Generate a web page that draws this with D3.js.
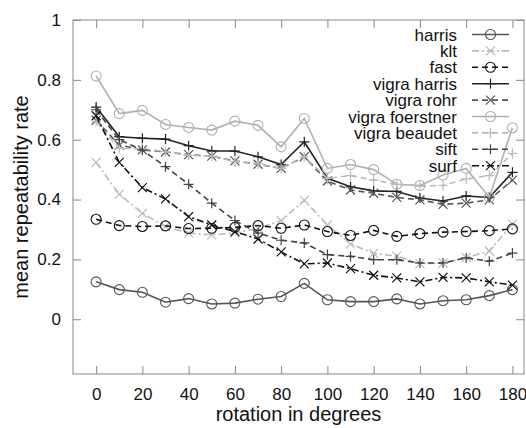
<!DOCTYPE html>
<html>
<head>
<meta charset="utf-8">
<script src="https://cdn.jsdelivr.net/npm/d3@7"></script>
<style>
  body { margin: 0; background: #fff; }
  svg text { font-family: "Liberation Sans", Arial, sans-serif; fill: #111; }
</style>
</head>
<body>
<svg id="chart" width="526" height="428"></svg>
<script>
// rotation angles
var angles = [0,10,20,30,40,50,60,70,80,90,100,110,120,130,140,150,160,170,180];

var harris      = [0.125,0.099,0.090,0.057,0.069,0.051,0.054,0.067,0.076,0.120,0.065,0.059,0.059,0.068,0.051,0.062,0.065,0.079,0.099];
var klt         = [0.524,0.418,0.354,0.310,0.288,0.282,0.288,0.304,0.329,0.397,0.315,0.252,0.220,0.211,0.186,0.188,0.206,0.228,0.318];
var fast        = [0.334,0.313,0.310,0.312,0.303,0.304,0.307,0.313,0.304,0.315,0.293,0.280,0.297,0.277,0.286,0.291,0.293,0.296,0.302];
var vigraHarris = [0.709,0.610,0.605,0.602,0.580,0.562,0.562,0.543,0.517,0.593,0.471,0.443,0.429,0.427,0.405,0.395,0.412,0.407,0.491];
var vigraRohr   = [0.665,0.582,0.566,0.559,0.550,0.545,0.529,0.518,0.504,0.543,0.462,0.432,0.421,0.407,0.399,0.384,0.388,0.399,0.465];
var foerstner   = [0.813,0.687,0.698,0.651,0.641,0.632,0.662,0.648,0.576,0.671,0.504,0.517,0.500,0.451,0.447,0.482,0.504,0.407,0.640];
var beaudet     = [0.660,0.571,0.570,0.560,0.548,0.545,0.527,0.520,0.504,0.543,0.471,0.480,0.465,0.451,0.445,0.447,0.469,0.480,0.554];
var sift        = [0.700,0.600,0.565,0.510,0.451,0.388,0.330,0.288,0.264,0.255,0.216,0.210,0.199,0.199,0.188,0.188,0.205,0.194,0.221];
var surf        = [0.680,0.524,0.440,0.402,0.343,0.315,0.293,0.268,0.225,0.185,0.188,0.169,0.147,0.138,0.125,0.140,0.138,0.125,0.114];

var xTicks = [0,20,40,60,80,100,120,140,160,180];
var yTicks = [0,0.2,0.4,0.6,0.8,1];

var series = [
  {name: "harris",          values: harris,      color: "#555", dash: null,        mark: "circle"},
  {name: "klt",             values: klt,         color: "#bbb", dash: "7,3,2,3",   mark: "x"},
  {name: "fast",            values: fast,        color: "#111", dash: "6,4",       mark: "circle"},
  {name: "vigra harris",    values: vigraHarris, color: "#222", dash: null,        mark: "plus"},
  {name: "vigra rohr",      values: vigraRohr,   color: "#555", dash: "6,4",       mark: "x"},
  {name: "vigra foerstner", values: foerstner,   color: "#b0b0b0", dash: null,     mark: "circle"},
  {name: "vigra beaudet",   values: beaudet,     color: "#bbb", dash: "6,4",       mark: "plus"},
  {name: "sift",            values: sift,        color: "#444", dash: "6,4",       mark: "plus"},
  {name: "surf",            values: surf,        color: "#111", dash: "7,3,2,3",   mark: "x"}
];

var svg = d3.select("#chart");
var plot = {left: 73, right: 524, top: 20, bottom: 374};

var x = d3.scaleLinear().domain([-10, 185]).range([plot.left, plot.right]);
var y = d3.scaleLinear().domain([-0.183, 1]).range([plot.bottom, plot.top]);

// frame
svg.append("rect")
  .attr("x", plot.left).attr("y", plot.top)
  .attr("width", plot.right - plot.left).attr("height", plot.bottom - plot.top)
  .attr("fill", "none").attr("stroke", "#888").attr("stroke-width", 1);

// axes with inward ticks, no domain line
var fmt = function(d) { return d === 0 ? "0" : d === 1 ? "1" : d3.format(".1f")(d); };

var xb = svg.append("g").attr("transform", "translate(0," + plot.bottom + ")")
  .call(d3.axisBottom(x).tickValues(xTicks).tickSizeInner(-8).tickSizeOuter(0).tickPadding(14));
var xt = svg.append("g").attr("transform", "translate(0," + plot.top + ")")
  .call(d3.axisTop(x).tickValues(xTicks).tickSizeInner(-8).tickSizeOuter(0).tickFormat(""));
var yl = svg.append("g").attr("transform", "translate(" + plot.left + ",0)")
  .call(d3.axisLeft(y).tickValues(yTicks).tickSizeInner(-8).tickSizeOuter(0).tickPadding(12).tickFormat(fmt));
var yr = svg.append("g").attr("transform", "translate(" + plot.right + ",0)")
  .call(d3.axisRight(y).tickValues(yTicks).tickSizeInner(-8).tickSizeOuter(0).tickFormat(""));

[xb, xt, yl, yr].forEach(function(g) {
  g.select(".domain").remove();
  g.selectAll(".tick line").attr("stroke", "#888");
  g.selectAll(".tick text").attr("font-size", 17).attr("fill", "#111")
    .style("font-family", "Liberation Sans, Arial, sans-serif");
});

// axis titles
svg.append("text")
  .attr("x", (plot.left + plot.right) / 2).attr("y", 421)
  .attr("text-anchor", "middle").attr("font-size", 20)
  .text("rotation in degrees");
svg.append("text")
  .attr("transform", "translate(28," + ((plot.top + plot.bottom) / 2) + ") rotate(-90)")
  .attr("text-anchor", "middle").attr("font-size", 20)
  .text("mean repeatability rate");

function drawMark(g, type, cx, cy, color) {
  if (type === "circle") {
    g.append("circle").attr("cx", cx).attr("cy", cy).attr("r", 5)
      .attr("fill", "none").attr("stroke", color).attr("stroke-width", 1.1);
  } else if (type === "plus") {
    g.append("path").attr("d", "M" + (cx - 5) + "," + cy + "h10M" + cx + "," + (cy - 5) + "v10")
      .attr("stroke", color).attr("stroke-width", 1.2);
  } else {
    g.append("path").attr("d", "M" + (cx - 4.5) + "," + (cy - 4.5) + "l9,9M" + (cx - 4.5) + "," + (cy + 4.5) + "l9,-9")
      .attr("stroke", color).attr("stroke-width", 1.2);
  }
}

var line = d3.line()
  .x(function(d) { return x(d[0]); })
  .y(function(d) { return y(d[1]); });

series.forEach(function(s) {
  var pts = angles.map(function(a, i) { return [a, s.values[i]]; });
  var g = svg.append("g");
  g.append("path")
    .attr("d", line(pts))
    .attr("fill", "none")
    .attr("stroke", s.color)
    .attr("stroke-width", 1.6)
    .attr("stroke-dasharray", s.dash);
  pts.forEach(function(p) { drawMark(g, s.mark, x(p[0]), y(p[1]), s.color); });
});

// legend
var lg = svg.append("g");
series.forEach(function(s, i) {
  var cy = 34.5 + i * 16.4;
  lg.append("text")
    .attr("x", 457).attr("y", cy + 6)
    .attr("text-anchor", "end").attr("font-size", 17)
    .text(s.name);
  lg.append("line")
    .attr("x1", 472).attr("x2", 509).attr("y1", cy).attr("y2", cy)
    .attr("stroke", s.color).attr("stroke-width", 1.6)
    .attr("stroke-dasharray", s.dash);
  drawMark(lg, s.mark, 490.5, cy, s.color);
});
</script>
</body>
</html>
